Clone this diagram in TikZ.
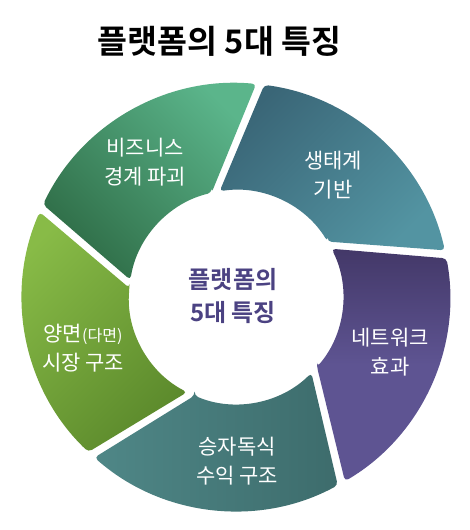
\documentclass[tikz,border=0pt]{standalone}
\usepackage{fontspec}
\setmainfont{Noto Sans CJK KR}[BoldFont={Noto Sans CJK KR Bold}]
\definecolor{tealA}{HTML}{3A6677}
\definecolor{tealB}{HTML}{5394A2}
\definecolor{greenA}{HTML}{5BB58B}
\definecolor{greenB}{HTML}{2F6D47}
\definecolor{limeA}{HTML}{88BB47}
\definecolor{limeB}{HTML}{5C8A2C}
\definecolor{seaA}{HTML}{4F8787}
\definecolor{seaB}{HTML}{3D6C6C}
\definecolor{violetA}{HTML}{433868}
\definecolor{violetB}{HTML}{5E5492}
\definecolor{centertext}{HTML}{4B4282}
\newcommand\ringseg[3]{%
  \path[#3, rounded corners=4pt] ({#1+2.2}:\rin) -- ({#1-16.4}:\rout)
    arc[start angle={#1-16.4}, end angle={#2-18.6}, radius=\rout]
    -- ({#2-2.2}:\rin)
    arc[start angle={#2-2.2}, end angle={#1+2.2}, radius=\rin] -- cycle;}
\tikzset{
  seglabel/.style={text=white, align=center, font=\fontsize{21}{29}\selectfont},
}
\begin{document}
\begin{tikzpicture}[x=1pt,y=1pt]
\useasboundingbox (0,-530) rectangle (470,0);
\fill[white] (0,-530) rectangle (470,0);
\def\rout{214}
\def\rin{107}
\begin{scope}[shift={(236,-297)}]
  \ringseg{29}{101}{top color=tealA, bottom color=tealB, shading angle=45}
  \ringseg{101}{173}{top color=greenA, bottom color=greenB, shading angle=-45}
  \ringseg{173}{245}{top color=limeA, bottom color=limeB, shading angle=45}
  \ringseg{245}{317}{left color=seaA, right color=seaB}
  \ringseg{317}{389}{top color=violetA, bottom color=violetB, middle color=violetB}
\end{scope}
\node[font=\fontsize{32.5}{38}\selectfont\bfseries] (title) at (219.5,-41) {플랫폼의 5대 특징};
\node[text=centertext, align=center, font=\fontsize{24}{33}\selectfont\bfseries] (center) at (233,-296) {플랫폼의\\5대 특징};
\node[seglabel] (l1) at (145,-162) {비즈니스\\경계 파괴};
\node[seglabel] (l2) at (333,-175) {생태계\\기반};
\node[seglabel] (l3) at (390,-352) {네트워크\\효과};
\node[seglabel] (l4) at (237,-461) {승자독식\\수익 구조};
\node[seglabel] (l5) at (83,-348) {양면{\fontsize{16}{29}\selectfont(다면)}\\시장 구조};
\end{tikzpicture}
\end{document}
